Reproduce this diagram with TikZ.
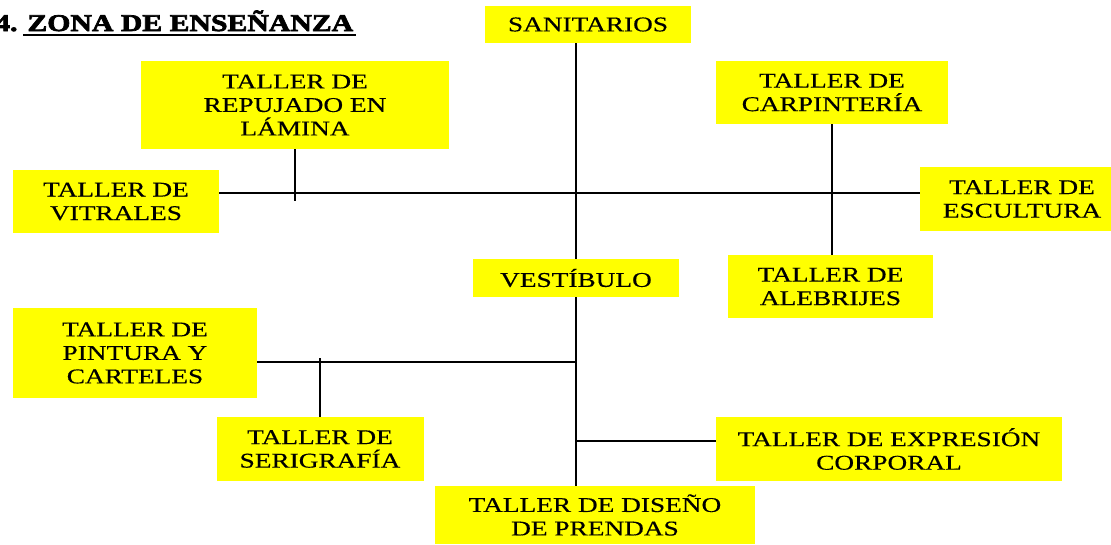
\documentclass[tikz,border=0pt]{standalone}
\usepackage{fontspec}
\newfontfamily\boxfont[FakeStretch=1.3,FakeBold=0.4]{Liberation Serif}
\newfontfamily\titlefont[FakeStretch=1.24,FakeBold=3]{Liberation Serif Bold}
\definecolor{boxyellow}{RGB}{255,255,0}
\tikzset{
  zbox/.style={fill=boxyellow, inner sep=0pt, align=center,
    font=\boxfont\fontsize{21}{23.5}\selectfont},
  link/.style={line width=2.2pt, draw=black},
  thicklink/.style={line width=2.6pt, draw=black}
}
\begin{document}
\begin{tikzpicture}[x=1pt,y=-1pt]
\useasboundingbox (0,0) rectangle (1111,544);
\fill[white] (0,0) rectangle (1111,544);

% title
\node[anchor=base west, inner sep=0pt, font=\titlefont\fontsize{24}{28}\selectfont] (title) at (-5,31) {4. ZONA DE ENSEÑANZA};
\coordinate (ulA) at (23,34.5);
\coordinate (ulB) at (356,34.5);
\draw[line width=2pt] (ulA) -- (ulB);

% boxes
\node[zbox, minimum width=206pt, minimum height=37pt] (san) at (588,24.5) {SANITARIOS};
\node[zbox, minimum width=308pt, minimum height=88pt] (rep) at (295,105) {TALLER DE\\REPUJADO EN\\LÁMINA};
\node[zbox, minimum width=232pt, minimum height=63pt] (car) at (832,92.5) {TALLER DE\\CARPINTERÍA};
\node[zbox, minimum width=206pt, minimum height=63pt] (vit) at (116,201.5) {TALLER DE\\VITRALES};
\node[zbox, minimum width=204pt, minimum height=64pt] (esc) at (1022,199) {TALLER DE\\ESCULTURA};
\node[zbox, minimum width=206pt, minimum height=38pt] (ves) at (576,278) {VESTÍBULO};
\node[zbox, minimum width=205pt, minimum height=63pt] (ale) at (830.5,286.5) {TALLER DE\\ALEBRIJES};
\node[zbox, minimum width=244pt, minimum height=90pt] (pin) at (135,353) {TALLER DE\\PINTURA Y\\CARTELES};
\node[zbox, minimum width=207pt, minimum height=64pt] (ser) at (320,449) {TALLER DE\\SERIGRAFÍA};
\node[zbox, minimum width=346pt, minimum height=64pt] (exp) at (889,449) {TALLER DE EXPRESIÓN\\CORPORAL};
\node[zbox, minimum width=320pt, minimum height=58pt] (dis) at (595,515) {TALLER DE DISEÑO\\DE PRENDAS};

% junction coordinates
\coordinate (hy) at (576,193);
\coordinate (rept) at (295,201);
\coordinate (pj) at (576,362);
\coordinate (sert) at (320,358);
\coordinate (ej) at (576,441);

% connectors
\draw[link] (ves.north) -- (ves.north |- san.south);
\draw[link] (ves.south) -- (ves.south |- dis.north);
\draw[thicklink] (vit.east |- hy) -- (esc.west |- hy);
\draw[thicklink] (rep.south) -- (rept);
\draw[link] (car.south) -- (car.south |- ale.north);
\draw[link] (pin.east |- pj) -- (pj);
\draw[link] (ser.north) -- (sert);
\draw[link] (ej) -- (exp.west |- ej);
\end{tikzpicture}
\end{document}
